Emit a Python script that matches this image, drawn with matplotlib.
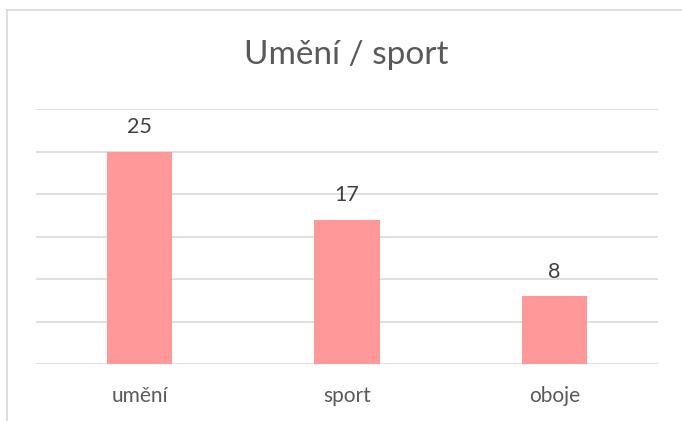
import matplotlib.pyplot as plt
from matplotlib.lines import Line2D

categories = ['umění', 'sport', 'oboje']
values = [25, 17, 8]

plt.rcParams['font.family'] = ['Lato', 'DejaVu Sans']

W, H = 682, 421
fig = plt.figure(figsize=(W / 100, H / 100), dpi=100)
ax = fig.add_axes([36 / W, 1 - 364 / H, (658 - 36) / W, (364 - 109) / H])

x = range(len(categories))
bars = ax.bar(x, values, width=0.314, color='#FF9999', zorder=3)
ax.set_xlim(-0.5, 2.5)
ax.set_ylim(0, 30)
ax.set_yticks(range(0, 31, 5))
ax.yaxis.grid(True, color='#D9D9D9', linewidth=1.2, zorder=0)
ax.tick_params(axis='y', left=False, labelleft=False)
ax.tick_params(axis='x', length=0, pad=16, labelsize=15, labelcolor='#595959')
ax.set_xticks(list(x))
ax.set_xticklabels(categories)
for s in ax.spines.values():
    s.set_visible(False)

for b, v in zip(bars, values):
    ax.annotate(str(v), (b.get_x() + b.get_width() / 2, v), xytext=(0, 13),
                textcoords='offset points', ha='center', va='baseline',
                fontsize=15.5, color='#404040')

fig.text(346 / W, 1 - 64 / H, 'Umění / sport', ha='center', va='baseline',
         fontsize=24, color='#595959')

# chart frame (cropped at right and bottom)
fig.add_artist(Line2D([7 / W, 1], [1 - 10 / H] * 2, transform=fig.transFigure,
                      color='#D9D9D9', linewidth=1.2))
fig.add_artist(Line2D([7 / W] * 2, [0, 1 - 10 / H], transform=fig.transFigure,
                      color='#D9D9D9', linewidth=1.2))

fig.savefig('out.png', dpi=100)
